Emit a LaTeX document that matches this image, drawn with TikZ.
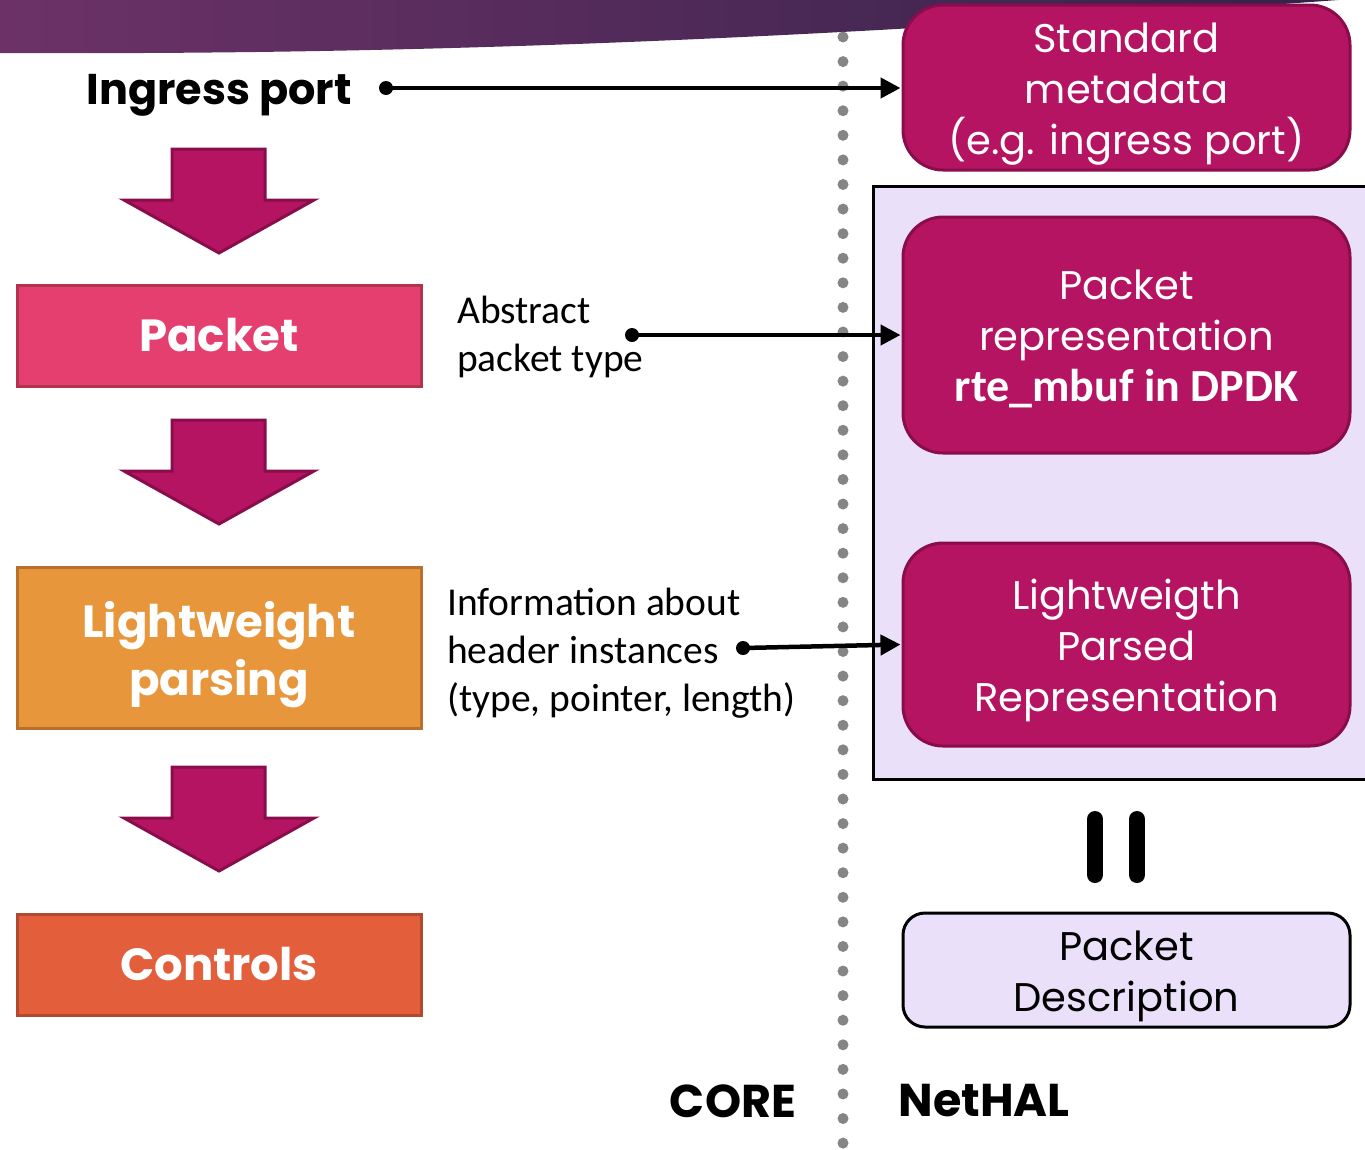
\documentclass[tikz,border=0pt]{standalone}
\usepackage{fontspec}
\setmainfont{Poppins}
\newfontfamily\calfont{Carlito}
\usetikzlibrary{arrows.meta}

\definecolor{halmag}{HTML}{B41462}
\definecolor{halmagline}{HTML}{8A0D4B}
\definecolor{pktred}{HTML}{E43F6F}
\definecolor{pktline}{HTML}{B3334F}
\definecolor{parseorange}{HTML}{E8963C}
\definecolor{parseline}{HTML}{B8702C}
\definecolor{ctrlred}{HTML}{E35E3B}
\definecolor{ctrlline}{HTML}{B04A2E}
\definecolor{lavender}{HTML}{EAE0FA}
\definecolor{dotgray}{HTML}{858585}
\definecolor{bandleft}{HTML}{6C3267}
\definecolor{bandright}{HTML}{33224A}

\tikzset{
  halbox/.style={rounded corners=40, fill=halmag, draw=halmagline, line width=3,
    inner sep=0, minimum width=447},
  haltext/.style={text=white, align=center, inner sep=0,
    font=\fontsize{40}{51}\selectfont},
  corebox/.style={draw, line width=3, text=white, align=center, inner sep=0,
    minimum width=404, font=\bfseries\fontsize{45}{58}\selectfont},
  blockarrow/.style={fill=halmag, draw=halmagline, line width=3, line join=miter},
  conn/.style={line width=4.5, -{Triangle[length=20,width=20]}, shorten >=1},
  srcdot/.style={circle, fill=black, inner sep=0, minimum size=14},
  note/.style={anchor=west, align=left, inner sep=0, font=\calfont\fontsize{39.5}{48}\selectfont},
  sidelabel/.style={inner sep=0, font=\bfseries\fontsize{46}{50}\selectfont},
}

\begin{document}
\begin{tikzpicture}[x=1pt, y=-1pt]
\useasboundingbox (0,0) rectangle (1365,1149);

% title band across the top
\shade[left color=bandleft, right color=bandright]
  (0,0) -- (0,53) .. controls (420,55) and (800,40) .. (1365,-2) -- cycle;

% CORE / NetHAL divider
\foreach \i in {0,...,45}
  \fill[dotgray] (843, 37+\i*24.58) circle (5.5);

% NetHAL group background
\fill[lavender] (873,186) rectangle (1365,779);
\draw[line width=3] (1366,186) -- (873,186) -- (873,779) -- (1366,779);

% left column: processing steps
\node[corebox, fill=pktred, draw=pktline, minimum height=101] (packet) at (219,335.5) {Packet};
\node[corebox, fill=parseorange, draw=parseline, minimum height=161] (parsing) at (219,647.5) {};
\node[corebox, draw=none, fill=none] at ([yshift=-7pt]parsing.center) {Lightweight\\parsing};
\node[corebox, fill=ctrlred, draw=ctrlline, minimum height=101] (controls) at (219,964.5) {Controls};

% downward block arrows
\foreach \t in {149, 420, 767}
  \draw[blockarrow] (172,\t) -- (265,\t) -- (265,\t+51) -- (314,\t+51)
    -- (219,\t+104) -- (124,\t+51) -- (172,\t+51) -- cycle;

% right column: NetHAL structures
\node[halbox, minimum height=165] (meta) at (1126.5,87.5) {};
\node[haltext] at ([yshift=-7pt]meta.center) {Standard\\metadata\\(e.g. ingress port)};

\node[halbox, minimum height=236] (pktrep) at (1126.5,335) {};
\node[haltext] at ([yshift=-4pt]pktrep.center)
  {Packet\\representation\\{\calfont\bfseries\fontsize{46}{51}\selectfont rte\_mbuf in DPDK}};

\node[halbox, minimum height=203] (lpr) at (1126.5,644.5) {};
\node[haltext] at ([yshift=-6pt]lpr.center) {Lightweigth\\Parsed\\Representation};

\node[halbox, fill=lavender, draw=black, rounded corners=22,
  minimum height=114] (desc) at (1126.5,970) {};
\node[haltext, text=black] at ([yshift=-6pt]desc.center) {Packet\\Description};

% equivalence bars
\draw[line width=16, line cap=round] (1095,819) -- (1095,875);
\draw[line width=16, line cap=round] (1137,819) -- (1137,875);

% inputs and their mapping arrows
\node[inner sep=0, anchor=east, font=\bfseries\fontsize{43}{50}\selectfont] (ingress) at (352,95) {Ingress port};
\node[srcdot] (ingdot) at (386,88) {};
\draw[conn] (ingdot.center) -- (meta.west |- ingdot);

\node[note] (abstract) at (457,337) {Abstract\\packet type};
\node[srcdot] (absdot) at (632,335) {};
\draw[conn] (absdot.center) -- (pktrep.west);

\node[note] (info) at (447,653) {Information about\\header instances\\(type, pointer, length)};
\node[srcdot] (infodot) at (743,648) {};
\draw[conn] (infodot.center) -- (lpr.west);

% side labels
\node[sidelabel] (core) at (733,1101) {CORE};
\node[sidelabel] (nethal) at (984,1101) {NetHAL};
\end{tikzpicture}
\end{document}
